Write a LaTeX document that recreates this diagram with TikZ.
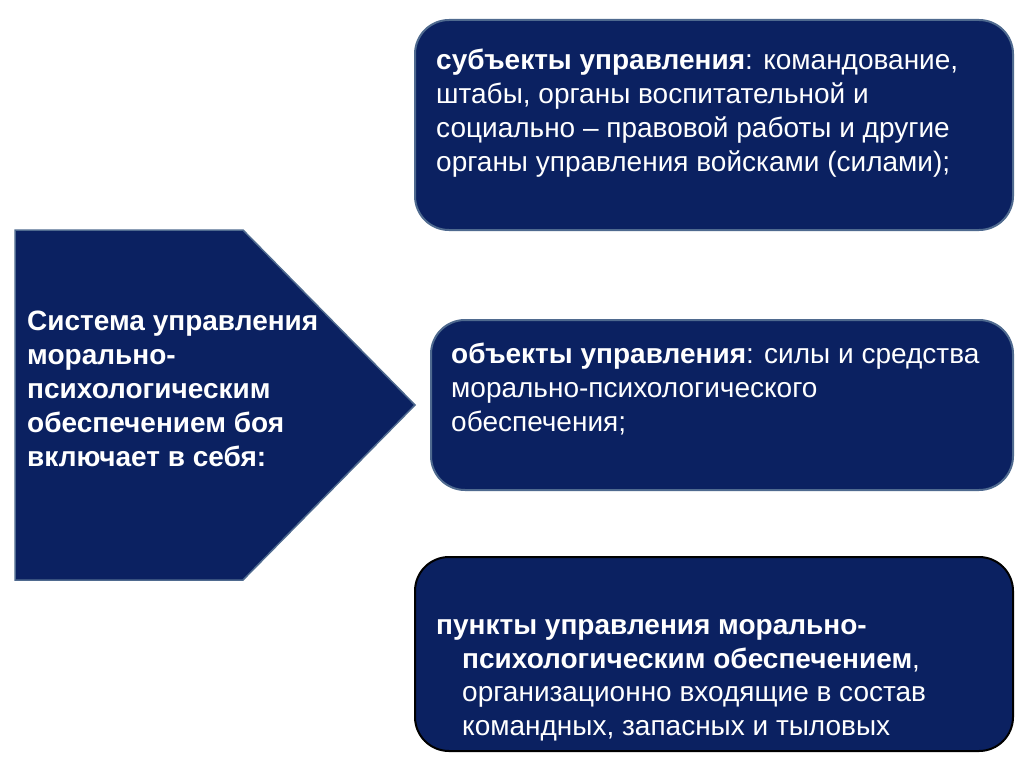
\documentclass[tikz,border=0pt]{standalone}
\usepackage{fontspec}
\setmainfont{Liberation Sans}
\definecolor{navy}{HTML}{0B2161}
\definecolor{edge}{HTML}{4F6A8F}
\begin{document}
\begin{tikzpicture}[x=1pt,y=-1pt,
  panel/.style={fill=navy, draw=edge, line width=2pt, rounded corners=34pt},
  txt/.style={text=white, align=left, anchor=base west, inner sep=0pt, font=\fontsize{28}{34}\selectfont}]
\useasboundingbox (0,0) rectangle (1024,768);
\fill[white] (0,0) rectangle (1024,768);
% left arrow shape
\draw[fill=navy, draw=edge, line width=1.5pt] (15,230) -- (243,230) -- (415,405) -- (243,580) -- (15,580) -- cycle;
\node[txt, font=\fontsize{28}{34}\selectfont\bfseries] (sys) at (27,466) {Система управления\\морально-\\психологическим\\обеспечением боя\\включает в себя:};
% boxes
\node[panel, minimum width=598pt, minimum height=210pt] (b1) at (714,125) {};
\node[panel, minimum width=582pt, minimum height=170pt] (b2) at (722,405) {};
\node[panel, draw=black, minimum width=598pt, minimum height=194pt] (b3) at (714,654) {};
\node[txt] (t1) at (436,171) {\textbf{субъекты управления}: командование,\\штабы, органы воспитательной и\\социально – правовой работы и другие\\органы управления войсками (силами);};
\node[txt] (t2) at (451,431) {\textbf{объекты управления}: силы и средства\\морально-психологического\\обеспечения;};
\node[txt, font=\fontsize{28}{33.5}\selectfont] (t3) at (436,735) {\textbf{пункты управления морально-}\\\hspace*{26pt}\textbf{психологическим обеспечением},\\\hspace*{26pt}организационно входящие в состав\\\hspace*{26pt}командных, запасных и тыловых};
\end{tikzpicture}
\end{document}
